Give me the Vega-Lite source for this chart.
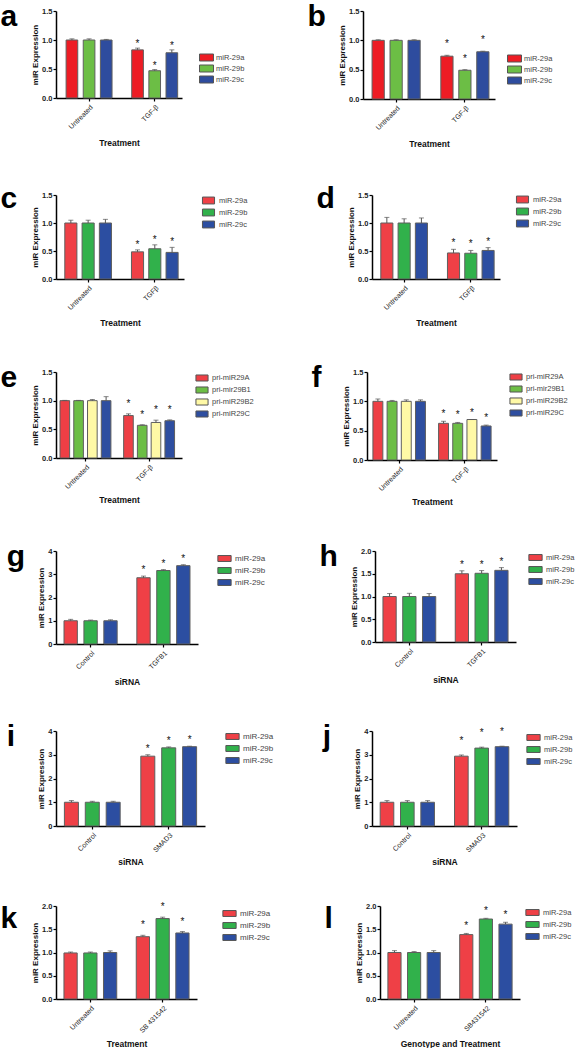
{
"$schema": "https://vega.github.io/schema/vega-lite/v6.json",
"padding": {"left": 0, "top": 2, "right": 0, "bottom": 0},
"background": "white",
"datasets": {
"a": [
{"g":"Untreated","s":"miR-29a","v":1.0,"hi":1.02,"sig":0},
{"g":"Untreated","s":"miR-29b","v":1.0,"hi":1.02,"sig":0},
{"g":"Untreated","s":"miR-29c","v":1.0,"hi":1.01,"sig":0},
{"g":"TGF-β","s":"miR-29a","v":0.83,"hi":0.86,"sig":1},
{"g":"TGF-β","s":"miR-29b","v":0.47,"hi":0.49,"sig":1},
{"g":"TGF-β","s":"miR-29c","v":0.78,"hi":0.83,"sig":1}],
"b": [
{"g":"Untreated","s":"miR-29a","v":1.0,"hi":1.01,"sig":0},
{"g":"Untreated","s":"miR-29b","v":1.0,"hi":1.01,"sig":0},
{"g":"Untreated","s":"miR-29c","v":1.0,"hi":1.01,"sig":0},
{"g":"TGF-β","s":"miR-29a","v":0.73,"hi":0.745,"sig":1},
{"g":"TGF-β","s":"miR-29b","v":0.49,"hi":0.5,"sig":1},
{"g":"TGF-β","s":"miR-29c","v":0.805,"hi":0.815,"sig":1}],
"c": [
{"g":"Untreated","s":"miR-29a","v":1.0,"hi":1.05,"sig":0},
{"g":"Untreated","s":"miR-29b","v":1.0,"hi":1.05,"sig":0},
{"g":"Untreated","s":"miR-29c","v":1.0,"hi":1.065,"sig":0},
{"g":"TGFβ","s":"miR-29a","v":0.485,"hi":0.52,"sig":1},
{"g":"TGFβ","s":"miR-29b","v":0.54,"hi":0.61,"sig":1},
{"g":"TGFβ","s":"miR-29c","v":0.475,"hi":0.565,"sig":1}],
"d": [
{"g":"Untreated","s":"miR-29a","v":1.0,"hi":1.1,"sig":0},
{"g":"Untreated","s":"miR-29b","v":1.0,"hi":1.075,"sig":0},
{"g":"Untreated","s":"miR-29c","v":1.0,"hi":1.09,"sig":0},
{"g":"TGFβ","s":"miR-29a","v":0.465,"hi":0.53,"sig":1},
{"g":"TGFβ","s":"miR-29b","v":0.46,"hi":0.51,"sig":1},
{"g":"TGFβ","s":"miR-29c","v":0.51,"hi":0.56,"sig":1}],
"e": [
{"g":"Untreated","s":"pri-miR29A","v":1.0,"hi":1.005,"sig":0},
{"g":"Untreated","s":"pri-mir29B1","v":1.0,"hi":1.005,"sig":0},
{"g":"Untreated","s":"pri-miR29B2","v":1.0,"hi":1.02,"sig":0},
{"g":"Untreated","s":"pri-miR29C","v":1.0,"hi":1.07,"sig":0},
{"g":"TGF-β","s":"pri-miR29A","v":0.74,"hi":0.77,"sig":1},
{"g":"TGF-β","s":"pri-mir29B1","v":0.57,"hi":0.58,"sig":1},
{"g":"TGF-β","s":"pri-miR29B2","v":0.62,"hi":0.66,"sig":1},
{"g":"TGF-β","s":"pri-miR29C","v":0.65,"hi":0.665,"sig":1}],
"f": [
{"g":"Untreated","s":"pri-miR29A","v":1.0,"hi":1.04,"sig":0},
{"g":"Untreated","s":"pri-mir29B1","v":1.0,"hi":1.015,"sig":0},
{"g":"Untreated","s":"pri-miR29B2","v":1.0,"hi":1.025,"sig":0},
{"g":"Untreated","s":"pri-miR29C","v":1.0,"hi":1.025,"sig":0},
{"g":"TGF-β","s":"pri-miR29A","v":0.625,"hi":0.66,"sig":1},
{"g":"TGF-β","s":"pri-mir29B1","v":0.625,"hi":0.64,"sig":1},
{"g":"TGF-β","s":"pri-miR29B2","v":0.69,"hi":0.69,"sig":1},
{"g":"TGF-β","s":"pri-miR29C","v":0.58,"hi":0.595,"sig":1}],
"g": [
{"g":"Control","s":"miR-29a","v":1.0,"hi":1.06,"sig":0},
{"g":"Control","s":"miR-29b","v":1.0,"hi":1.03,"sig":0},
{"g":"Control","s":"miR-29c","v":1.0,"hi":1.04,"sig":0},
{"g":"TGFB1","s":"miR-29a","v":2.85,"hi":2.92,"sig":1},
{"g":"TGFB1","s":"miR-29b","v":3.16,"hi":3.2,"sig":1},
{"g":"TGFB1","s":"miR-29c","v":3.37,"hi":3.41,"sig":1}],
"h": [
{"g":"Control","s":"miR-29a","v":1.0,"hi":1.065,"sig":0},
{"g":"Control","s":"miR-29b","v":1.0,"hi":1.07,"sig":0},
{"g":"Control","s":"miR-29c","v":1.0,"hi":1.065,"sig":0},
{"g":"TGFB1","s":"miR-29a","v":1.5,"hi":1.565,"sig":1},
{"g":"TGFB1","s":"miR-29b","v":1.51,"hi":1.57,"sig":1},
{"g":"TGFB1","s":"miR-29c","v":1.575,"hi":1.635,"sig":1}],
"i": [
{"g":"Control","s":"miR-29a","v":1.0,"hi":1.07,"sig":0},
{"g":"Control","s":"miR-29b","v":1.0,"hi":1.04,"sig":0},
{"g":"Control","s":"miR-29c","v":1.0,"hi":1.04,"sig":0},
{"g":"SMAD3","s":"miR-29a","v":2.94,"hi":3.0,"sig":1},
{"g":"SMAD3","s":"miR-29b","v":3.29,"hi":3.33,"sig":1},
{"g":"SMAD3","s":"miR-29c","v":3.34,"hi":3.36,"sig":1}],
"j": [
{"g":"Control","s":"miR-29a","v":1.0,"hi":1.07,"sig":0},
{"g":"Control","s":"miR-29b","v":1.0,"hi":1.07,"sig":0},
{"g":"Control","s":"miR-29c","v":1.0,"hi":1.07,"sig":0},
{"g":"SMAD3","s":"miR-29a","v":2.94,"hi":2.99,"sig":1},
{"g":"SMAD3","s":"miR-29b","v":3.28,"hi":3.32,"sig":1},
{"g":"SMAD3","s":"miR-29c","v":3.34,"hi":3.36,"sig":1}],
"k": [
{"g":"Untreated","s":"miR-29a","v":0.99,"hi":1.01,"sig":0},
{"g":"Untreated","s":"miR-29b","v":0.99,"hi":1.01,"sig":0},
{"g":"Untreated","s":"miR-29c","v":1.0,"hi":1.035,"sig":0},
{"g":"SB 431542","s":"miR-29a","v":1.34,"hi":1.37,"sig":1},
{"g":"SB 431542","s":"miR-29b","v":1.73,"hi":1.76,"sig":1},
{"g":"SB 431542","s":"miR-29c","v":1.42,"hi":1.45,"sig":1}],
"l": [
{"g":"Untreated","s":"miR-29a","v":1.0,"hi":1.04,"sig":0},
{"g":"Untreated","s":"miR-29b","v":1.0,"hi":1.02,"sig":0},
{"g":"Untreated","s":"miR-29c","v":1.0,"hi":1.04,"sig":0},
{"g":"SB431542","s":"miR-29a","v":1.385,"hi":1.41,"sig":1},
{"g":"SB431542","s":"miR-29b","v":1.72,"hi":1.735,"sig":1},
{"g":"SB431542","s":"miR-29c","v":1.61,"hi":1.65,"sig":1}]
},
"vconcat": [
{"hconcat": [
{"title": {"text": "a"}, "data": {"name": "a"}, "width": 126, "height": 87,
 "encoding": {
  "x": {"field": "g", "type": "nominal", "sort": null, "title": "Treatment", "scale": {"paddingInner": 0.3, "paddingOuter": 0.11, "align": 0.7}, "axis": {"titleY": 40}},
  "xOffset": {"field": "s", "type": "nominal", "sort": null, "scale": {"paddingInner": 0.32}},
  "y": {"field": "v", "type": "quantitative", "title": "miR Expression", "scale": {"domain": [0, 1.5], "nice": false}, "axis": {"values": [0, 0.5, 1, 1.5], "format": ".1f"}}},
 "layer": [
  {"mark": {"type": "bar", "stroke": "#5f5f5f", "strokeWidth": 1}, "encoding": {"color": {"field": "s", "type": "nominal", "sort": null, "scale": {"range": ["#ED1C24", "#6CBE45", "#2E4C9E"]}, "legend": {"title": null, "orient": "none", "legendX": 145, "legendY": 41, "symbolType": "M-1.4,-0.7H1.4V0.7H-1.4Z", "symbolSize": 100}}}},
  {"mark": {"type": "rule", "color": "#555", "strokeWidth": 1}, "encoding": {"y2": {"field": "hi"}}},
  {"mark": {"type": "tick", "color": "#555", "thickness": 1, "size": 5}, "encoding": {"y": {"field": "hi", "type": "quantitative", "title": "miR Expression", "scale": {"domain": [0, 1.5], "nice": false}, "axis": {"values": [0, 0.5, 1, 1.5], "format": ".1f"}}}},
  {"transform": [{"filter": "datum.sig == 1"}], "mark": {"type": "text", "text": "*", "color": "#111", "dy": -4, "fontSize": 10, "baseline": "middle"}, "encoding": {"y": {"field": "hi", "type": "quantitative", "title": "miR Expression", "scale": {"domain": [0, 1.5], "nice": false}, "axis": {"values": [0, 0.5, 1, 1.5], "format": ".1f"}}}}
 ]},
{"title": {"text": "b"}, "data": {"name": "b"}, "width": 132, "height": 88,
 "encoding": {
  "x": {"field": "g", "type": "nominal", "sort": null, "title": "Treatment", "scale": {"paddingInner": 0.3, "paddingOuter": 0.11, "align": 0.6}, "axis": {"titleY": 40}},
  "xOffset": {"field": "s", "type": "nominal", "sort": null, "scale": {"paddingInner": 0.32}},
  "y": {"field": "v", "type": "quantitative", "title": "miR Expression", "scale": {"domain": [0, 1.5], "nice": false}, "axis": {"values": [0, 0.5, 1, 1.5], "format": ".1f"}}},
 "layer": [
  {"mark": {"type": "bar", "stroke": "#5f5f5f", "strokeWidth": 1}, "encoding": {"color": {"field": "s", "type": "nominal", "sort": null, "scale": {"range": ["#ED1C24", "#6CBE45", "#2E4C9E"]}, "legend": {"title": null, "orient": "none", "legendX": 146, "legendY": 42, "symbolType": "M-1.4,-0.7H1.4V0.7H-1.4Z", "symbolSize": 100}}}},
  {"mark": {"type": "rule", "color": "#555", "strokeWidth": 1}, "encoding": {"y2": {"field": "hi"}}},
  {"mark": {"type": "tick", "color": "#555", "thickness": 1, "size": 5}, "encoding": {"y": {"field": "hi", "type": "quantitative", "title": "miR Expression", "scale": {"domain": [0, 1.5], "nice": false}, "axis": {"values": [0, 0.5, 1, 1.5], "format": ".1f"}}}},
  {"transform": [{"filter": "datum.sig == 1"}], "mark": {"type": "text", "text": "*", "color": "#111", "dy": -11, "fontSize": 10, "baseline": "middle"}, "encoding": {"y": {"field": "hi", "type": "quantitative", "title": "miR Expression", "scale": {"domain": [0, 1.5], "nice": false}, "axis": {"values": [0, 0.5, 1, 1.5], "format": ".1f"}}}}
 ]}
], "spacing": 62, "resolve": {"scale": {"color": "independent", "xOffset": "independent"}, "legend": {"color": "independent"}}},
{"hconcat": [
{"title": {"text": "c", "offset": -23}, "data": {"name": "c"}, "width": 128, "height": 84,
 "encoding": {
  "x": {"field": "g", "type": "nominal", "sort": null, "title": "Treatment", "scale": {"paddingInner": 0.3, "paddingOuter": 0.11, "align": 0.6}, "axis": {"titleY": 39}},
  "xOffset": {"field": "s", "type": "nominal", "sort": null, "scale": {"paddingInner": 0.3}},
  "y": {"field": "v", "type": "quantitative", "title": "miR Expression", "scale": {"domain": [0, 1.5], "nice": false}, "axis": {"values": [0, 0.5, 1, 1.5], "format": ".1f"}}},
 "layer": [
  {"mark": {"type": "bar", "stroke": "#5f5f5f", "strokeWidth": 1}, "encoding": {"color": {"field": "s", "type": "nominal", "sort": null, "scale": {"range": ["#EF4046", "#31B14B", "#2C4EA1"]}, "legend": {"title": null, "orient": "none", "legendX": 146, "legendY": -1, "symbolType": "M-1.05,-0.6H1.05V0.6H-1.05Z", "symbolSize": 132}}}},
  {"mark": {"type": "rule", "color": "#555", "strokeWidth": 1}, "encoding": {"y2": {"field": "hi"}}},
  {"mark": {"type": "tick", "color": "#555", "thickness": 1, "size": 5}, "encoding": {"y": {"field": "hi", "type": "quantitative", "title": "miR Expression", "scale": {"domain": [0, 1.5], "nice": false}, "axis": {"values": [0, 0.5, 1, 1.5], "format": ".1f"}}}},
  {"transform": [{"filter": "datum.sig == 1"}], "mark": {"type": "text", "text": "*", "color": "#111", "dy": -5, "fontSize": 10, "baseline": "middle"}, "encoding": {"y": {"field": "hi", "type": "quantitative", "title": "miR Expression", "scale": {"domain": [0, 1.5], "nice": false}, "axis": {"values": [0, 0.5, 1, 1.5], "format": ".1f"}}}}
 ]},
{"title": {"text": "d", "offset": -23}, "data": {"name": "d"}, "width": 128, "height": 84,
 "encoding": {
  "x": {"field": "g", "type": "nominal", "sort": null, "title": "Treatment", "scale": {"paddingInner": 0.3, "paddingOuter": 0.11, "align": 0.6}, "axis": {"titleY": 39}},
  "xOffset": {"field": "s", "type": "nominal", "sort": null, "scale": {"paddingInner": 0.3}},
  "y": {"field": "v", "type": "quantitative", "title": "miR Expression", "scale": {"domain": [0, 1.5], "nice": false}, "axis": {"values": [0, 0.5, 1, 1.5], "format": ".1f"}}},
 "layer": [
  {"mark": {"type": "bar", "stroke": "#5f5f5f", "strokeWidth": 1}, "encoding": {"color": {"field": "s", "type": "nominal", "sort": null, "scale": {"range": ["#EF4046", "#31B14B", "#2C4EA1"]}, "legend": {"title": null, "orient": "none", "legendX": 144, "legendY": -2, "symbolType": "M-1.05,-0.6H1.05V0.6H-1.05Z", "symbolSize": 132}}}},
  {"mark": {"type": "rule", "color": "#555", "strokeWidth": 1}, "encoding": {"y2": {"field": "hi"}}},
  {"mark": {"type": "tick", "color": "#555", "thickness": 1, "size": 5}, "encoding": {"y": {"field": "hi", "type": "quantitative", "title": "miR Expression", "scale": {"domain": [0, 1.5], "nice": false}, "axis": {"values": [0, 0.5, 1, 1.5], "format": ".1f"}}}},
  {"transform": [{"filter": "datum.sig == 1"}], "mark": {"type": "text", "text": "*", "color": "#111", "dy": -6, "fontSize": 10, "baseline": "middle"}, "encoding": {"y": {"field": "hi", "type": "quantitative", "title": "miR Expression", "scale": {"domain": [0, 1.5], "nice": false}, "axis": {"values": [0, 0.5, 1, 1.5], "format": ".1f"}}}}
 ]}
], "spacing": 68, "resolve": {"scale": {"color": "independent", "xOffset": "independent"}, "legend": {"color": "independent"}}},
{"hconcat": [
{"title": {"text": "e"}, "data": {"name": "e"}, "width": 126, "height": 86,
 "encoding": {
  "x": {"field": "g", "type": "nominal", "sort": null, "title": "Treatment", "scale": {"paddingInner": 0.2, "paddingOuter": 0.09, "align": 0.35}, "axis": {"titleY": 37}},
  "xOffset": {"field": "s", "type": "nominal", "sort": null, "scale": {"paddingInner": 0.3}},
  "y": {"field": "v", "type": "quantitative", "title": "miR Expression", "scale": {"domain": [0, 1.5], "nice": false}, "axis": {"values": [0, 0.5, 1, 1.5], "format": ".1f"}}},
 "layer": [
  {"mark": {"type": "bar", "stroke": "#5f5f5f", "strokeWidth": 1}, "encoding": {"color": {"field": "s", "type": "nominal", "sort": null, "scale": {"range": ["#EE3F45", "#6CBE45", "#FFF9A6", "#2E4EA0"]}, "legend": {"title": null, "orient": "none", "legendX": 140, "legendY": 0, "symbolType": "M-1.1,-0.55H1.1V0.55H-1.1Z", "symbolSize": 121}}}},
  {"mark": {"type": "rule", "color": "#555", "strokeWidth": 1}, "encoding": {"y2": {"field": "hi"}}},
  {"mark": {"type": "tick", "color": "#555", "thickness": 1, "size": 5}, "encoding": {"y": {"field": "hi", "type": "quantitative", "title": "miR Expression", "scale": {"domain": [0, 1.5], "nice": false}, "axis": {"values": [0, 0.5, 1, 1.5], "format": ".1f"}}}},
  {"transform": [{"filter": "datum.sig == 1"}], "mark": {"type": "text", "text": "*", "color": "#111", "dy": -10, "fontSize": 10, "baseline": "middle"}, "encoding": {"y": {"field": "hi", "type": "quantitative", "title": "miR Expression", "scale": {"domain": [0, 1.5], "nice": false}, "axis": {"values": [0, 0.5, 1, 1.5], "format": ".1f"}}}}
 ]},
{"title": {"text": "f"}, "data": {"name": "f"}, "width": 130, "height": 88,
 "encoding": {
  "x": {"field": "g", "type": "nominal", "sort": null, "title": "Treatment", "scale": {"paddingInner": 0.2, "paddingOuter": 0.09, "align": 0.5}, "axis": {"titleY": 37}},
  "xOffset": {"field": "s", "type": "nominal", "sort": null, "scale": {"paddingInner": 0.3}},
  "y": {"field": "v", "type": "quantitative", "title": "miR Expression", "scale": {"domain": [0, 1.5], "nice": false}, "axis": {"values": [0, 0.5, 1, 1.5], "format": ".1f"}}},
 "layer": [
  {"mark": {"type": "bar", "stroke": "#5f5f5f", "strokeWidth": 1}, "encoding": {"color": {"field": "s", "type": "nominal", "sort": null, "scale": {"range": ["#EE3F45", "#6CBE45", "#FFF9A6", "#2E4EA0"]}, "legend": {"title": null, "orient": "none", "legendX": 143, "legendY": -1, "symbolType": "M-1.1,-0.55H1.1V0.55H-1.1Z", "symbolSize": 121}}}},
  {"mark": {"type": "rule", "color": "#555", "strokeWidth": 1}, "encoding": {"y2": {"field": "hi"}}},
  {"mark": {"type": "tick", "color": "#555", "thickness": 1, "size": 5}, "encoding": {"y": {"field": "hi", "type": "quantitative", "title": "miR Expression", "scale": {"domain": [0, 1.5], "nice": false}, "axis": {"values": [0, 0.5, 1, 1.5], "format": ".1f"}}}},
  {"transform": [{"filter": "datum.sig == 1"}], "mark": {"type": "text", "text": "*", "color": "#111", "dy": -7, "fontSize": 10, "baseline": "middle"}, "encoding": {"y": {"field": "hi", "type": "quantitative", "title": "miR Expression", "scale": {"domain": [0, 1.5], "nice": false}, "axis": {"values": [0, 0.5, 1, 1.5], "format": ".1f"}}}}
 ]}
], "spacing": 57, "resolve": {"scale": {"color": "independent", "xOffset": "independent"}, "legend": {"color": "independent"}}},
{"hconcat": [
{"title": {"text": "g"}, "data": {"name": "g"}, "width": 142, "height": 93,
 "encoding": {
  "x": {"field": "g", "type": "nominal", "sort": null, "title": "siRNA", "scale": {"paddingInner": 0.27, "paddingOuter": 0.11}, "axis": {"titleY": 33}},
  "xOffset": {"field": "s", "type": "nominal", "sort": null, "scale": {"paddingInner": 0.33}},
  "y": {"field": "v", "type": "quantitative", "title": "miR Expression", "scale": {"domain": [0, 4], "nice": false}, "axis": {"values": [0, 1, 2, 3, 4], "format": "d"}}},
 "layer": [
  {"mark": {"type": "bar", "stroke": "#5f5f5f", "strokeWidth": 1}, "encoding": {"color": {"field": "s", "type": "nominal", "sort": null, "scale": {"range": ["#EF4046", "#31B14B", "#2C4EA1"]}, "legend": {"title": null, "orient": "none", "legendX": 162, "legendY": 1, "labelFontSize": 8, "symbolType": "M-1.12,-0.5H1.12V0.5H-1.12Z", "symbolSize": 140}}}},
  {"mark": {"type": "rule", "color": "#555", "strokeWidth": 1}, "encoding": {"y2": {"field": "hi"}}},
  {"mark": {"type": "tick", "color": "#555", "thickness": 1, "size": 5}, "encoding": {"y": {"field": "hi", "type": "quantitative", "title": "miR Expression", "scale": {"domain": [0, 4], "nice": false}, "axis": {"values": [0, 1, 2, 3, 4], "format": "d"}}}},
  {"transform": [{"filter": "datum.sig == 1"}], "mark": {"type": "text", "text": "*", "color": "#111", "dy": -6, "fontSize": 10, "baseline": "middle"}, "encoding": {"y": {"field": "hi", "type": "quantitative", "title": "miR Expression", "scale": {"domain": [0, 4], "nice": false}, "axis": {"values": [0, 1, 2, 3, 4], "format": "d"}}}}
 ]},
{"title": {"text": "h"}, "data": {"name": "h"}, "width": 141, "height": 91,
 "encoding": {
  "x": {"field": "g", "type": "nominal", "sort": null, "title": "siRNA", "scale": {"paddingInner": 0.27, "paddingOuter": 0.11}, "axis": {"titleY": 33}},
  "xOffset": {"field": "s", "type": "nominal", "sort": null, "scale": {"paddingInner": 0.33}},
  "y": {"field": "v", "type": "quantitative", "title": "miR Expression", "scale": {"domain": [0, 2], "nice": false}, "axis": {"values": [0, 0.5, 1, 1.5, 2], "format": ".1f"}}},
 "layer": [
  {"mark": {"type": "bar", "stroke": "#5f5f5f", "strokeWidth": 1}, "encoding": {"color": {"field": "s", "type": "nominal", "sort": null, "scale": {"range": ["#EF4046", "#31B14B", "#2C4EA1"]}, "legend": {"title": null, "orient": "none", "legendX": 154, "legendY": 0, "labelFontSize": 7.5, "symbolType": "M-1.12,-0.5H1.12V0.5H-1.12Z", "symbolSize": 140}}}},
  {"mark": {"type": "rule", "color": "#555", "strokeWidth": 1}, "encoding": {"y2": {"field": "hi"}}},
  {"mark": {"type": "tick", "color": "#555", "thickness": 1, "size": 5}, "encoding": {"y": {"field": "hi", "type": "quantitative", "title": "miR Expression", "scale": {"domain": [0, 2], "nice": false}, "axis": {"values": [0, 0.5, 1, 1.5, 2], "format": ".1f"}}}},
  {"transform": [{"filter": "datum.sig == 1"}], "mark": {"type": "text", "text": "*", "color": "#111", "dy": -6, "fontSize": 10, "baseline": "middle"}, "encoding": {"y": {"field": "hi", "type": "quantitative", "title": "miR Expression", "scale": {"domain": [0, 2], "nice": false}, "axis": {"values": [0, 0.5, 1, 1.5, 2], "format": ".1f"}}}}
 ]}
], "spacing": 53, "resolve": {"scale": {"color": "independent", "xOffset": "independent"}, "legend": {"color": "independent"}}},
{"hconcat": [
{"title": {"text": "i"}, "data": {"name": "i"}, "width": 149, "height": 95,
 "encoding": {
  "x": {"field": "g", "type": "nominal", "sort": null, "title": "siRNA", "scale": {"paddingInner": 0.27, "paddingOuter": 0.11}, "axis": {"titleY": 31}},
  "xOffset": {"field": "s", "type": "nominal", "sort": null, "scale": {"paddingInner": 0.33}},
  "y": {"field": "v", "type": "quantitative", "title": "miR Expression", "scale": {"domain": [0, 4], "nice": false}, "axis": {"values": [0, 1, 2, 3, 4], "format": "d"}}},
 "layer": [
  {"mark": {"type": "bar", "stroke": "#5f5f5f", "strokeWidth": 1}, "encoding": {"color": {"field": "s", "type": "nominal", "sort": null, "scale": {"range": ["#EF4046", "#31B14B", "#2C4EA1"]}, "legend": {"title": null, "orient": "none", "legendX": 170, "legendY": -1, "labelFontSize": 8, "symbolType": "M-1.12,-0.5H1.12V0.5H-1.12Z", "symbolSize": 140}}}},
  {"mark": {"type": "rule", "color": "#555", "strokeWidth": 1}, "encoding": {"y2": {"field": "hi"}}},
  {"mark": {"type": "tick", "color": "#555", "thickness": 1, "size": 5}, "encoding": {"y": {"field": "hi", "type": "quantitative", "title": "miR Expression", "scale": {"domain": [0, 4], "nice": false}, "axis": {"values": [0, 1, 2, 3, 4], "format": "d"}}}},
  {"transform": [{"filter": "datum.sig == 1"}], "mark": {"type": "text", "text": "*", "color": "#111", "dy": -6, "fontSize": 10, "baseline": "middle"}, "encoding": {"y": {"field": "hi", "type": "quantitative", "title": "miR Expression", "scale": {"domain": [0, 4], "nice": false}, "axis": {"values": [0, 1, 2, 3, 4], "format": "d"}}}}
 ]},
{"title": {"text": "j"}, "data": {"name": "j"}, "width": 145, "height": 95,
 "encoding": {
  "x": {"field": "g", "type": "nominal", "sort": null, "title": "siRNA", "scale": {"paddingInner": 0.27, "paddingOuter": 0.11}, "axis": {"titleY": 31}},
  "xOffset": {"field": "s", "type": "nominal", "sort": null, "scale": {"paddingInner": 0.33}},
  "y": {"field": "v", "type": "quantitative", "title": "miR Expression", "scale": {"domain": [0, 4], "nice": false}, "axis": {"values": [0, 1, 2, 3, 4], "format": "d"}}},
 "layer": [
  {"mark": {"type": "bar", "stroke": "#5f5f5f", "strokeWidth": 1}, "encoding": {"color": {"field": "s", "type": "nominal", "sort": null, "scale": {"range": ["#EF4046", "#31B14B", "#2C4EA1"]}, "legend": {"title": null, "orient": "none", "legendX": 155, "legendY": 0, "labelFontSize": 7.5, "symbolType": "M-1.12,-0.5H1.12V0.5H-1.12Z", "symbolSize": 140}}}},
  {"mark": {"type": "rule", "color": "#555", "strokeWidth": 1}, "encoding": {"y2": {"field": "hi"}}},
  {"mark": {"type": "tick", "color": "#555", "thickness": 1, "size": 5}, "encoding": {"y": {"field": "hi", "type": "quantitative", "title": "miR Expression", "scale": {"domain": [0, 4], "nice": false}, "axis": {"values": [0, 1, 2, 3, 4], "format": "d"}}}},
  {"transform": [{"filter": "datum.sig == 1"}], "mark": {"type": "text", "text": "*", "color": "#111", "dy": -14, "fontSize": 10, "baseline": "middle"}, "encoding": {"y": {"field": "hi", "type": "quantitative", "title": "miR Expression", "scale": {"domain": [0, 4], "nice": false}, "axis": {"values": [0, 1, 2, 3, 4], "format": "d"}}}}
 ]}
], "spacing": 48, "resolve": {"scale": {"color": "independent", "xOffset": "independent"}, "legend": {"color": "independent"}}},
{"hconcat": [
{"title": {"text": "k", "offset": -32}, "data": {"name": "k"}, "width": 141, "height": 93,
 "encoding": {
  "x": {"field": "g", "type": "nominal", "sort": null, "title": "Treatment", "scale": {"paddingInner": 0.27, "paddingOuter": 0.11}, "axis": {"titleY": 40}},
  "xOffset": {"field": "s", "type": "nominal", "sort": null, "scale": {"paddingInner": 0.33}},
  "y": {"field": "v", "type": "quantitative", "title": "miR Expression", "scale": {"domain": [0, 2], "nice": false}, "axis": {"values": [0, 0.5, 1, 1.5, 2], "format": ".1f"}}},
 "layer": [
  {"mark": {"type": "bar", "stroke": "#5f5f5f", "strokeWidth": 1}, "encoding": {"color": {"field": "s", "type": "nominal", "sort": null, "scale": {"range": ["#EF4046", "#31B14B", "#2C4EA1"]}, "legend": {"title": null, "orient": "none", "legendX": 167, "legendY": 1, "labelFontSize": 8, "symbolType": "M-1.12,-0.5H1.12V0.5H-1.12Z", "symbolSize": 140}}}},
  {"mark": {"type": "rule", "color": "#555", "strokeWidth": 1}, "encoding": {"y2": {"field": "hi"}}},
  {"mark": {"type": "tick", "color": "#555", "thickness": 1, "size": 5}, "encoding": {"y": {"field": "hi", "type": "quantitative", "title": "miR Expression", "scale": {"domain": [0, 2], "nice": false}, "axis": {"values": [0, 0.5, 1, 1.5, 2], "format": ".1f"}}}},
  {"transform": [{"filter": "datum.sig == 1"}], "mark": {"type": "text", "text": "*", "color": "#111", "dy": -10, "fontSize": 10, "baseline": "middle"}, "encoding": {"y": {"field": "hi", "type": "quantitative", "title": "miR Expression", "scale": {"domain": [0, 2], "nice": false}, "axis": {"values": [0, 0.5, 1, 1.5, 2], "format": ".1f"}}}}
 ]},
{"title": {"text": "l", "offset": -32}, "data": {"name": "l"}, "width": 140, "height": 93,
 "encoding": {
  "x": {"field": "g", "type": "nominal", "sort": null, "title": "Genotype and Treatment", "scale": {"paddingInner": 0.27, "paddingOuter": 0.11}, "axis": {"titleY": 40}},
  "xOffset": {"field": "s", "type": "nominal", "sort": null, "scale": {"paddingInner": 0.33}},
  "y": {"field": "v", "type": "quantitative", "title": "miR Expression", "scale": {"domain": [0, 2], "nice": false}, "axis": {"values": [0, 0.5, 1, 1.5, 2], "format": ".1f"}}},
 "layer": [
  {"mark": {"type": "bar", "stroke": "#5f5f5f", "strokeWidth": 1}, "encoding": {"color": {"field": "s", "type": "nominal", "sort": null, "scale": {"range": ["#EF4046", "#31B14B", "#2C4EA1"]}, "legend": {"title": null, "orient": "none", "legendX": 146, "legendY": 0, "labelFontSize": 7.5, "symbolType": "M-1.12,-0.5H1.12V0.5H-1.12Z", "symbolSize": 140}}}},
  {"mark": {"type": "rule", "color": "#555", "strokeWidth": 1}, "encoding": {"y2": {"field": "hi"}}},
  {"mark": {"type": "tick", "color": "#555", "thickness": 1, "size": 5}, "encoding": {"y": {"field": "hi", "type": "quantitative", "title": "miR Expression", "scale": {"domain": [0, 2], "nice": false}, "axis": {"values": [0, 0.5, 1, 1.5, 2], "format": ".1f"}}}},
  {"transform": [{"filter": "datum.sig == 1"}], "mark": {"type": "text", "text": "*", "color": "#111", "dy": -7, "fontSize": 10, "baseline": "middle"}, "encoding": {"y": {"field": "hi", "type": "quantitative", "title": "miR Expression", "scale": {"domain": [0, 2], "nice": false}, "axis": {"values": [0, 0.5, 1, 1.5, 2], "format": ".1f"}}}}
 ]}
], "spacing": 53, "resolve": {"scale": {"color": "independent", "xOffset": "independent"}, "legend": {"color": "independent"}}}
],
"spacing": 36,
"resolve": {"scale": {"color": "independent", "xOffset": "independent"}, "legend": {"color": "independent"}},
"config": {
 "view": {"stroke": null},
 "font": "Liberation Sans",
 "axis": {"domainColor": "#000", "domainWidth": 1.5, "tickColor": "#000", "tickSize": 3, "tickWidth": 1.2, "labelFont": "Liberation Sans", "labelFontSize": 7, "labelColor": "#222", "titleFont": "Liberation Sans", "titleFontSize": 8.5, "titleFontWeight": "bold", "titleColor": "#111", "grid": false},
 "axisY": {"labelFontWeight": "bold", "labelFontSize": 7.5, "titlePadding": 2, "labelPadding": 1, "titleFontSize": 8},
 "axisX": {"labelAngle": -45, "labelPadding": 2},
 "legend": {"labelFont": "Liberation Sans", "labelFontSize": 7.5, "labelColor": "#444", "padding": 0, "rowPadding": 0, "symbolStrokeColor": "#555", "symbolStrokeWidth": 1, "symbolOpacity": 1, "labelOffset": 4},
 "title": {"font": "Liberation Sans", "fontSize": 30, "fontWeight": "bold", "color": "#000", "anchor": "start", "frame": "bounds", "offset": -25, "dx": -31}
}
}
